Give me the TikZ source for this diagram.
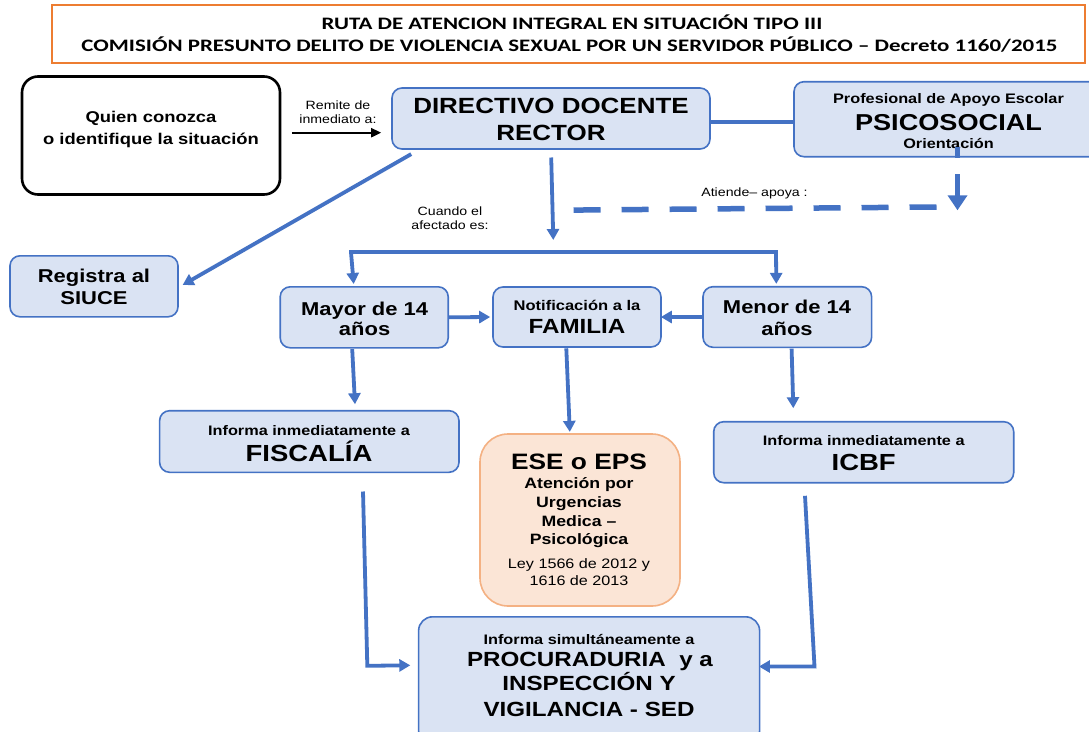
\documentclass[tikz,border=0pt]{standalone}
\usepackage{fontspec}
\setmainfont{Liberation Sans}
\newfontfamily\af[FakeStretch=1.18]{Liberation Sans}
\newfontfamily\tf[FakeStretch=1.31]{Carlito}
\usetikzlibrary{arrows.meta,calc}
\definecolor{bl}{HTML}{4472C4}
\definecolor{bfill}{HTML}{DAE3F3}
\definecolor{org}{HTML}{ED7D31}
\definecolor{efill}{HTML}{FBE5D6}
\definecolor{eline}{HTML}{F4B183}
\newcommand\myfs[1]{\fontsize{#1}{#1}\selectfont}
\begin{document}
\begin{tikzpicture}[x=1pt,y=-1pt,
  box/.style={draw=bl, fill=bfill, line width=1.6pt, rounded corners=10pt, inner sep=0pt},
  txt/.style={inner sep=0pt, anchor=base, font=\af\bfseries},
  lbl/.style={inner sep=0pt, anchor=base, font=\af\myfs{12}},
  conn/.style={draw=bl, line width=3.8pt},
  arr/.style={conn, -{Triangle[length=11pt,width=12pt]}},
  dsh/.style={draw=bl, line width=5.5pt, dash pattern=on 27pt off 21pt},
]
\useasboundingbox (0,0) rectangle (1089,731);
\fill[white] (0,0) rectangle (1089,731);

% title
\node[draw=org, line width=1.2pt, fill=white, minimum width=1033pt, minimum height=58pt, inner sep=0pt] (title) at (568.5,34) {};
\node[txt, font=\tf\bfseries\myfs{17.5}] (t1) at (572,29.3) {RUTA DE ATENCION INTEGRAL EN SITUACIÓN TIPO III};
\node[txt, font=\tf\bfseries\myfs{17.5}] (t2) at (569.5,51.7) {COMISIÓN PRESUNTO DELITO DE VIOLENCIA SEXUAL POR UN SERVIDOR PÚBLICO – Decreto 1160/2015};

% boxes
\node[draw=black, fill=white, line width=2.6pt, rounded corners=16pt, minimum width=258pt, minimum height=118pt, inner sep=0pt] (quien) at (151,135.5) {};
\node[box, minimum width=318pt, minimum height=61pt] (dir) at (551,118.5) {};
\node[box, minimum width=309pt, minimum height=75pt] (psico) at (948.5,119.2) {};
\node[box, minimum width=168pt, minimum height=61pt] (reg) at (94,286.3) {};
\node[box, minimum width=168pt, minimum height=61pt] (mayor) at (364.2,317.3) {};
\node[box, minimum width=168pt, minimum height=60pt] (fam) at (577,317) {};
\node[box, minimum width=168.6pt, minimum height=60.6pt] (menor) at (787.3,317) {};
\node[box, minimum width=299.4pt, minimum height=61.6pt] (fisc) at (309.3,441.5) {};
\node[box, minimum width=300pt, minimum height=61pt] (icbf) at (863.7,452.2) {};
\node[draw=eline, fill=efill, line width=1.6pt, rounded corners=28pt, minimum width=200pt, minimum height=172pt, inner sep=0pt] (ese) at (580,520) {};
\node[box, rounded corners=14pt, minimum width=341pt, minimum height=128pt] (proc) at (589.1,680.8) {};

% texts
\node[txt, font=\af\bfseries\myfs{15.6}] (q1) at (151,122.3) {Quien conozca};
\node[txt, font=\af\bfseries\myfs{15.6}] (q2) at (151,144) {o identifique la situación};
\node[lbl] (r1) at (338,109.5) {Remite de};
\node[lbl] (r2) at (338,123) {inmediato a:};
\node[txt, font=\af\bfseries\myfs{22}] (d1) at (551,113.3) {DIRECTIVO DOCENTE};
\node[txt, font=\af\bfseries\myfs{22}] (d2) at (551,140.7) {RECTOR};
\node[txt, font=\af\bfseries\myfs{13.8}] (p1) at (948.5,103.3) {Profesional de Apoyo Escolar};
\node[txt, font=\af\bfseries\myfs{23}] (p2) at (948.5,130) {PSICOSOCIAL};
\node[txt, font=\af\bfseries\myfs{13.8}] (p3) at (948.5,148.3) {Orientación};
\node[lbl] (c1) at (450,215) {Cuando el};
\node[lbl] (c2) at (450,229.5) {afectado es:};
\node[lbl] (a1) at (754.5,196.7) {Atiende– apoya :};
\node[txt, font=\af\bfseries\myfs{18.6}] (g1) at (94,282.7) {Registra al};
\node[txt, font=\af\bfseries\myfs{18.6}] (g2) at (94,304) {SIUCE};
\node[txt, font=\af\bfseries\myfs{18.6}] (m1) at (364.6,315) {Mayor de 14};
\node[txt, font=\af\bfseries\myfs{18.6}] (m2) at (364.6,335.7) {años};
\node[txt, font=\af\bfseries\myfs{14}] (f1) at (577,310) {Notificación a la};
\node[txt, font=\af\bfseries\myfs{20.5}] (f2) at (577,333.3) {FAMILIA};
\node[txt, font=\af\bfseries\myfs{18.6}] (n1) at (787,313.3) {Menor de 14};
\node[txt, font=\af\bfseries\myfs{18.6}] (n2) at (787,335) {años};
\node[txt, font=\af\bfseries\myfs{13.8}] (s1) at (309,435.6) {Informa inmediatamente a};
\node[txt, font=\af\bfseries\myfs{23.3}] (s2) at (309,461.7) {FISCALÍA};
\node[txt, font=\af\bfseries\myfs{13.8}] (i1) at (863.7,445) {Informa inmediatamente a};
\node[txt, font=\af\bfseries\myfs{23.3}] (i2) at (863.7,470.7) {ICBF};
\node[txt, font=\af\bfseries\myfs{22.3}] (e1) at (579,469.3) {ESE o EPS};
\node[txt, font=\af\bfseries\myfs{15}] (e2) at (579,488.3) {Atención por};
\node[txt, font=\af\bfseries\myfs{15}] (e3) at (579,507.3) {Urgencias};
\node[txt, font=\af\bfseries\myfs{15}] (e4) at (579,526) {Medica –};
\node[txt, font=\af\bfseries\myfs{15}] (e5) at (579,544) {Psicológica};
\node[txt, font=\af\myfs{13.7}] (e6) at (579,568.3) {Ley 1566 de 2012 y};
\node[txt, font=\af\myfs{13.7}] (e7) at (579,585) {1616 de 2013};
\node[txt, font=\af\bfseries\myfs{13.8}] (o1) at (589,644) {Informa simultáneamente a};
\node[txt, font=\af\bfseries\myfs{20.5}] (o2) at (590,666.7) {PROCURADURIA\ \ y a};
\node[txt, font=\af\bfseries\myfs{20.5}] (o3) at (589,690.7) {INSPECCIÓN Y};
\node[txt, font=\af\bfseries\myfs{20.5}] (o4) at (589,716) {VIGILANCIA - SED};

% connectors
\draw[line width=2pt, -{Triangle[length=10pt,width=9pt]}] ($(quien.east)+(10.5,-2.8)$) -- ($(dir.west)+(-10,14.2)$);
\draw[conn] ($(dir.east)+(0,3.2)$) -- ($(psico.west)+(0,2.5)$);
\coordinate (afect) at (553.3,240);
\draw[arr] ($(dir.south)+(0.2,7.7)$) -- (afect);
\draw[arr] ($(dir.south west)+(20,4.3)$) -- ($(reg.east)+(3.8,-1.3)$);
\coordinate (hl) at (351,252.3);
\coordinate (hr) at (776,252.3);
\draw[conn, line cap=rect] (hl) -- (hr);
\draw[arr] (hl) -- ($(mayor.north)+(-10.5,-2)$);
\draw[arr] (hr) -- ($(menor.north)+(-11,-2)$);
\draw[arr] (mayor.east) -- ($(fam.west)+(-2,0)$);
\draw[arr] (menor.west) -- ($(fam.east)+(-1,0)$);
\draw[arr] ($(mayor.south)+(-12,0.5)$) -- ($(fisc.north)+(45.7,-5.7)$);
\draw[arr] ($(fam.south)+(-10.7,0.5)$) -- ($(ese.north)+(-10.2,-1.3)$);
\draw[arr] ($(menor.south)+(4.3,0.5)$) -- ($(icbf.north)+(-70.4,-12.7)$);
\draw[arr] ($(fisc.south)+(53.7,18.4)$) -- ($(proc.west)+(-50.5,-15)$) -- ($(proc.west)+(-7.5,-15.5)$);
\draw[arr] ($(icbf.south)+(-58.7,12.3)$) -- ($(proc.east)+(54.1,-14.3)$) -- ($(proc.east)+(-1.5,-14.3)$);
\draw[dsh, dash pattern=on 27pt off 16pt, dash phase=16pt, -{Triangle[length=15pt,width=19pt]}] ($(psico.south)+(9,-10.5)$) -- ($(psico.south)+(9,52.8)$);
\draw[dsh] ($(psico.south)+(-12,49.5)$) -- ($(dir.south)+(20,60.3)$);
\end{tikzpicture}
\end{document}
